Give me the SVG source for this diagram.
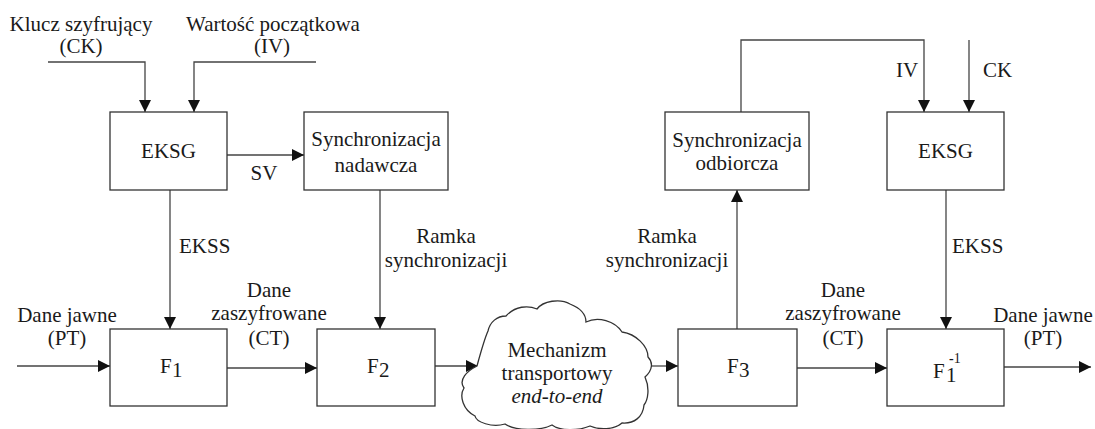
<svg xmlns="http://www.w3.org/2000/svg" width="1095" height="429" viewBox="0 0 1095 429">
<style>
text{font-family:"Liberation Serif","Times New Roman",Tinos,"DejaVu Serif",serif;font-size:21px;fill:#1a1a1a}
.c{text-anchor:middle}
.box{fill:#fff;stroke:#333;stroke-width:1.3}
.ln{fill:none;stroke:#444;stroke-width:1.3}
.sup{font-size:14px}
</style>
<defs>
<marker id="ah" markerUnits="userSpaceOnUse" markerWidth="12" markerHeight="12" refX="12" refY="6" orient="auto">
<path d="M0,0 L12,6 L0,12 Z" fill="#111"/>
</marker>
</defs>
<g id="connectors">
<polyline class="ln" points="48,62 145,62 145,112" marker-end="url(#ah)"/>
<polyline class="ln" points="316,62 194,62 194,112" marker-end="url(#ah)"/>
<line class="ln" x1="227" y1="155" x2="304" y2="155" marker-end="url(#ah)"/>
<line class="ln" x1="170" y1="190" x2="170" y2="329" marker-end="url(#ah)"/>
<line class="ln" x1="17" y1="366" x2="110" y2="366" marker-end="url(#ah)"/>
<line class="ln" x1="380" y1="190" x2="380" y2="329" marker-end="url(#ah)"/>
<line class="ln" x1="227" y1="368" x2="317" y2="368" marker-end="url(#ah)"/>
<line class="ln" x1="435" y1="366" x2="478" y2="366" marker-end="url(#ah)"/>
<line class="ln" x1="651" y1="366" x2="678" y2="366" marker-end="url(#ah)"/>
<line class="ln" x1="737" y1="329" x2="737" y2="190" marker-end="url(#ah)"/>
<polyline class="ln" points="741,112 741,40 924,40 924,112" marker-end="url(#ah)"/>
<line class="ln" x1="969" y1="40" x2="969" y2="112" marker-end="url(#ah)"/>
<line class="ln" x1="946" y1="190" x2="946" y2="329" marker-end="url(#ah)"/>
<line class="ln" x1="797" y1="368" x2="887" y2="368" marker-end="url(#ah)"/>
<line class="ln" x1="1004" y1="367" x2="1091" y2="367" marker-end="url(#ah)"/>
</g>
<g id="labels">
<text class="c" x="81" y="31">Klucz szyfrujący</text>
<text class="c" x="81" y="53">(CK)</text>
<text class="c" x="273" y="31">Wartość początkowa</text>
<text class="c" x="272" y="53">(IV)</text>
<text class="c" x="264" y="180">SV</text>
<text x="179" y="253">EKSS</text>
<text x="952" y="253">EKSS</text>
<text class="c" x="446" y="243">Ramka</text>
<text class="c" x="446" y="267">synchronizacji</text>
<text class="c" x="667" y="243">Ramka</text>
<text class="c" x="667" y="267">synchronizacji</text>
<text class="c" x="67" y="322">Dane jawne</text>
<text class="c" x="67" y="345">(PT)</text>
<text class="c" x="269" y="297">Dane</text>
<text class="c" x="269" y="320">zaszyfrowane</text>
<text class="c" x="269" y="345">(CT)</text>
<text class="c" x="843" y="297">Dane</text>
<text class="c" x="843" y="320">zaszyfrowane</text>
<text class="c" x="843" y="345">(CT)</text>
<text class="c" x="1043" y="322">Dane jawne</text>
<text class="c" x="1043" y="345">(PT)</text>
<text x="896" y="77">IV</text>
<text x="983" y="77">CK</text>
</g>
<g id="eksg-tx">
<rect class="box" x="110" y="112" width="117" height="78"/>
<text class="c" x="168.5" y="158">EKSG</text>
</g>
<g id="sync-nadawcza">
<rect class="box" x="304" y="112" width="144" height="78"/>
<text class="c" x="376" y="146">Synchronizacja</text>
<text class="c" x="376" y="172">nadawcza</text>
</g>
<g id="f1">
<rect class="box" x="110" y="329" width="117" height="77"/>
<text x="160" y="373">F<tspan x="172" y="377">1</tspan></text>
</g>
<g id="f2">
<rect class="box" x="317" y="329" width="118" height="77"/>
<text x="367" y="373">F<tspan x="379" y="377">2</tspan></text>
</g>
<g id="cloud">
<path class="box" d="M477,366 C480,355 484,340 488,331 C490,322 497,316 506,316 C515,306 528,305 537,309 C543,301 560,298 570,304 C580,308 586,314 586,322 C598,316 615,321 622,332 C636,334 648,346 648,357 C653,362 653,370 645,377 C650,388 648,400 644,405 C643,417 634,424 622,423 C614,430 599,430 590,426 C578,431 560,431 552,425 C540,431 515,431 505,424 C492,428 476,422 475,416 C463,410 459,396 464,388 C458,380 467,371 477,366 Z"/>
<text class="c" x="557" y="357">Mechanizm</text>
<text class="c" x="557" y="380">transportowy</text>
<text class="c" x="557" y="403" font-style="italic">end-to-end</text>
</g>
<g id="f3">
<rect class="box" x="678" y="329" width="119" height="77"/>
<text x="727" y="373">F<tspan x="739" y="377">3</tspan></text>
</g>
<g id="sync-odbiorcza">
<rect class="box" x="665" y="112" width="144" height="78"/>
<text class="c" x="737" y="147">Synchronizacja</text>
<text class="c" x="737" y="170">odbiorcza</text>
</g>
<g id="eksg-rx">
<rect class="box" x="887" y="112" width="117" height="78"/>
<text class="c" x="945.5" y="158">EKSG</text>
</g>
<g id="f1inv">
<rect class="box" x="887" y="329" width="117" height="77"/>
<text x="933" y="378">F<tspan x="946" y="382">1</tspan><tspan class="sup" x="949" y="363" font-weight="bold">-</tspan><tspan class="sup" y="363">1</tspan></text>
</g>
</svg>
